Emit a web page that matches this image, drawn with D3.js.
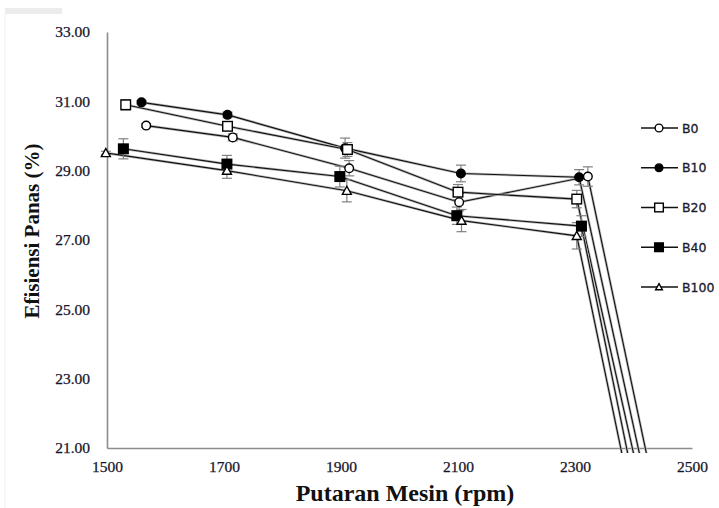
<!DOCTYPE html>
<html>
<head>
<meta charset="utf-8">
<script src="https://cdn.jsdelivr.net/npm/d3@7"></script>
<style>
  body { margin: 0; background: #fff; }
  svg { display: block; }
</style>
</head>
<body>
<svg id="chart" width="719" height="508"></svg>
<script>
// values
const seriesNames = ['B0', 'B10', 'B20', 'B40', 'B100']
const rpmB0 = [1567, 1715, 1914, 2102, 2322, 2422]
const effB0 = [30.30, 29.96, 29.07, 28.09, 28.83, 20.85]
const errB0 = [0.05, 0.10, 0.22, 0.25, 0.28]
const rpmB10 = [1559, 1706, 1907, 2105, 2307, 2410]
const effB10 = [30.97, 30.61, 29.65, 28.92, 28.81, 20.85]
const errB10 = [0.05, 0.08, 0.29, 0.24, 0.22]
const rpmB20 = [1532, 1706, 1911, 2100, 2303, 2400]
const effB20 = [30.90, 30.28, 29.61, 28.38, 28.18, 20.85]
const errB20 = [0.15, 0.12, 0.20, 0.22, 0.25]
const rpmB40 = [1528, 1705, 1898, 2098, 2311, 2390]
const effB40 = [29.63, 29.19, 28.83, 27.70, 27.40, 20.85]
const errB40 = [0.29, 0.25, 0.30, 0.25, 0.30]
const rpmB100 = [1498, 1705, 1910, 2106, 2303, 2380]
const effB100 = [29.51, 29.00, 28.42, 27.56, 27.12, 20.85]
const errB100 = [0.05, 0.22, 0.32, 0.32, 0.38]
const xTicks = [1500, 1700, 1900, 2100, 2300, 2500]
const yTicks = [21, 23, 25, 27, 29, 31, 33]

const symbols = {
  B0: { type: 'circle', fill: '#fff' },
  B10: { type: 'circle', fill: '#000' },
  B20: { type: 'square', fill: '#fff' },
  B40: { type: 'square', fill: '#000' },
  B100: { type: 'triangle', fill: '#fff' }
}

const series = [
  { name: 'B0', x: rpmB0, y: effB0, e: errB0 },
  { name: 'B10', x: rpmB10, y: effB10, e: errB10 },
  { name: 'B20', x: rpmB20, y: effB20, e: errB20 },
  { name: 'B40', x: rpmB40, y: effB40, e: errB40 },
  { name: 'B100', x: rpmB100, y: effB100, e: errB100 }
]

const svg = d3.select('#chart')

const x = d3.scaleLinear().domain([1500, 2500]).range([107, 692])
const y = d3.scaleLinear().domain([21, 33]).range([448, 32])

// faint scan remnants at the page edge
svg.append('rect').attr('x', 5).attr('y', 8).attr('width', 57).attr('height', 6).attr('fill', '#ececec')
svg.append('line').attr('x1', 5).attr('x2', 5).attr('y1', 14).attr('y2', 508)
  .attr('stroke', '#f0f0f0').attr('stroke-width', 1)

// axes
const xAxis = svg.append('g')
  .attr('transform', `translate(0,${y(21)})`)
  .call(d3.axisBottom(x).tickValues(xTicks).tickSize(0).tickPadding(13).tickFormat(d3.format('d')))
const yAxis = svg.append('g')
  .attr('transform', `translate(${x(1500)},0)`)
  .call(d3.axisLeft(y).tickValues(yTicks).tickSize(0).tickPadding(17).tickFormat(d3.format('.2f')))

;[xAxis, yAxis].forEach(g => {
  g.select('.domain').attr('stroke', '#8c8c8c').attr('stroke-width', 1.6)
  g.selectAll('text')
    .attr('font-family', '"Liberation Serif", serif')
    .attr('font-size', 15.5)
    .attr('fill', '#15152a')
    .attr('stroke', '#15152a').attr('stroke-width', 0.25)
})

// lines clipped slightly below the x axis, as in the reference
svg.append('clipPath').attr('id', 'plotclip')
  .append('rect').attr('x', 107).attr('y', 0).attr('width', 600).attr('height', 453)

const line = d3.line().x(d => x(d[0])).y(d => y(d[1]))
const plot = svg.append('g').attr('clip-path', 'url(#plotclip)')

// error bars
series.forEach(s => {
  s.e.forEach((err, i) => {
    const cx = x(s.x[i])
    const g = svg.append('g').attr('stroke', '#808080').attr('stroke-width', 1.2)
    g.append('line').attr('x1', cx).attr('x2', cx).attr('y1', y(s.y[i] + err)).attr('y2', y(s.y[i] - err))
    g.append('line').attr('x1', cx - 5).attr('x2', cx + 5).attr('y1', y(s.y[i] + err)).attr('y2', y(s.y[i] + err))
    g.append('line').attr('x1', cx - 5).attr('x2', cx + 5).attr('y1', y(s.y[i] - err)).attr('y2', y(s.y[i] - err))
  })
})

series.forEach(s => {
  const pts = s.x.map((v, i) => [v, s.y[i]])
  plot.append('path')
    .datum(pts)
    .attr('d', line)
    .attr('fill', 'none')
    .attr('stroke', '#bbb')
    .attr('stroke-width', 2.6)
  plot.append('path')
    .datum(pts)
    .attr('d', line)
    .attr('fill', 'none')
    .attr('stroke', '#111')
    .attr('stroke-width', 1.1)
})

function marker (g, name, cx, cy, scale) {
  const s = symbols[name]
  const k = scale || 1
  let el
  if (s.type === 'circle') {
    el = g.append('circle').attr('cx', cx).attr('cy', cy).attr('r', 4.3 * k)
  } else if (s.type === 'square') {
    const h = 4.8 * k
    el = g.append('rect').attr('x', cx - h).attr('y', cy - h).attr('width', 2 * h).attr('height', 2 * h)
  } else {
    const h = 4.5 * k
    el = g.append('path').attr('d', `M${cx},${cy - h}L${cx + h},${cy + h * 0.8}L${cx - h},${cy + h * 0.8}Z`)
  }
  el.attr('fill', s.fill).attr('stroke', '#000').attr('stroke-width', 1.4)
}

// markers on the measured points (the last point of each series lies off the chart)
series.forEach(s => {
  const g = svg.append('g')
  s.x.slice(0, 5).forEach((v, i) => marker(g, s.name, x(v), y(s.y[i])))
})

// legend
const legendY = d3.scalePoint().domain(seriesNames).range([128, 287])
const legend = svg.append('g')
seriesNames.forEach(n => {
  const ly = legendY(n)
  legend.append('line').attr('x1', 641).attr('x2', 678).attr('y1', ly).attr('y2', ly)
    .attr('stroke', '#111').attr('stroke-width', 1.3)
  marker(legend, n, 659, ly, n === 'B100' ? 0.75 : 0.9)
  legend.append('text')
    .attr('x', 682).attr('y', ly).attr('dy', '0.36em')
    .attr('font-family', '"DejaVu Sans", sans-serif')
    .attr('font-size', 12.5)
    .attr('fill', '#1a1a30')
    .attr('stroke', '#1a1a30').attr('stroke-width', 0.3)
    .text(n)
})

// axis titles
svg.append('text')
  .attr('x', 405).attr('y', 501)
  .attr('text-anchor', 'middle')
  .attr('font-family', '"Liberation Serif", serif')
  .attr('font-weight', 'bold')
  .attr('font-size', 24)
  .attr('fill', '#111')
  .text('Putaran Mesin (rpm)')

svg.append('text')
  .attr('transform', 'translate(32,231) rotate(-90)')
  .attr('dy', '0.35em')
  .attr('text-anchor', 'middle')
  .attr('font-family', '"Liberation Serif", serif')
  .attr('font-weight', 'bold')
  .attr('font-size', 21)
  .attr('fill', '#111')
  .text('Efisiensi Panas (%)')
</script>
</body>
</html>
